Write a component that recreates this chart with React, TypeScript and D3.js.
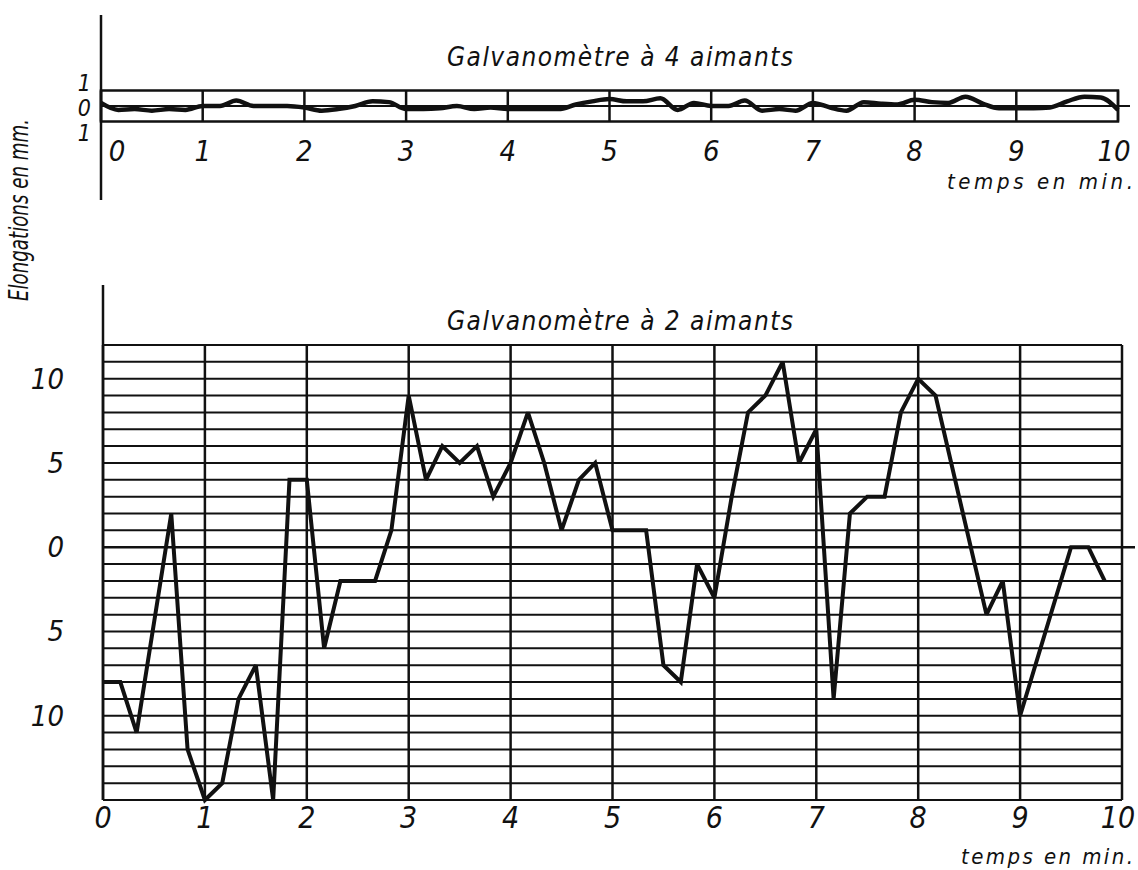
import React from "react";
import * as d3 from "d3";

// ---- data ----
const minutes = [0, 1, 2, 3, 4, 5, 6, 7, 8, 9, 10];

// Galvanomètre à 4 aimants (upper trace), elongations in mm
const upperTimes = [0, 0.17, 0.33, 0.5, 0.67, 0.83, 1.0, 1.17, 1.33, 1.5, 1.67, 1.83, 2.0, 2.17, 2.33, 2.5, 2.67, 2.83, 3.0, 3.17, 3.33, 3.5, 3.67, 3.83, 4.0, 4.17, 4.33, 4.5, 4.67, 4.83, 5.0, 5.17, 5.33, 5.5, 5.67, 5.83, 6.0, 6.17, 6.33, 6.5, 6.67, 6.83, 7.0, 7.17, 7.33, 7.5, 7.67, 7.83, 8.0, 8.17, 8.33, 8.5, 8.67, 8.83, 9.0, 9.17, 9.33, 9.5, 9.67, 9.83, 10.0];
const upperValues = [0.2, -0.25, -0.2, -0.3, -0.2, -0.25, 0, 0, 0.35, 0, 0, 0, -0.1, -0.3, -0.2, 0, 0.3, 0.25, -0.2, -0.2, -0.15, 0, -0.2, -0.1, -0.2, -0.2, -0.2, -0.2, 0.1, 0.3, 0.45, 0.3, 0.3, 0.5, -0.25, 0.2, 0, 0, 0.35, -0.3, -0.2, -0.3, 0.2, -0.1, -0.3, 0.25, 0.15, 0.1, 0.4, 0.25, 0.2, 0.6, 0.15, -0.15, -0.15, -0.15, -0.1, 0.3, 0.6, 0.55, -0.25];

// Galvanomètre à 2 aimants (lower trace), elongations in mm
const lowerTimes = [0, 0.17, 0.33, 0.67, 0.83, 1.0, 1.17, 1.33, 1.5, 1.67, 1.83, 2.0, 2.17, 2.33, 2.67, 2.83, 3.0, 3.17, 3.33, 3.5, 3.67, 3.83, 4.0, 4.17, 4.33, 4.5, 4.67, 4.83, 5.0, 5.33, 5.5, 5.67, 5.83, 6.0, 6.17, 6.33, 6.5, 6.67, 6.83, 7.0, 7.17, 7.33, 7.5, 7.67, 7.83, 8.0, 8.17, 8.67, 8.83, 9.0, 9.5, 9.67, 9.83];
const lowerValues = [-8, -8, -11, 2, -12, -15, -14, -9, -7, -15, 4, 4, -6, -2, -2, 1, 9, 4, 6, 5, 6, 3, 5, 8, 5, 1, 4, 5, 1, 1, -7, -8, -1, -3, 3, 8, 9, 11, 5, 7, -9, 2, 3, 3, 8, 10, 9, -4, -2, -10, 0, 0, -2];

const upperYTicks = [1, 0, -1];
const lowerYTicks = [10, 5, 0, -5, -10];
const lowerGridValues = d3.range(-15, 13);

const titleUpper = "Galvanomètre à 4 aimants";
const titleLower = "Galvanomètre à 2 aimants";
const yLabel = "Elongations en mm.";
const xLabel = "temps en min.";

const FONT = "'Liberation Sans Narrow', 'DejaVu Sans Condensed', 'DejaVu Sans', sans-serif";

export default function App() {
  const W = 1138, H = 870;

  // upper chart scales
  const xU = d3.scaleLinear().domain([0, 10]).range([101, 1118]);
  const yU = d3.scaleLinear().domain([-1, 1]).range([121.5, 90.5]);
  // lower chart scales
  const xL = d3.scaleLinear().domain([0, 10]).range([103, 1122]);
  const yL = d3.scaleLinear().domain([-15, 12]).range([800, 345]);

  const upperLine = d3.line<number>()
    .x((_, i) => xU(upperTimes[i]))
    .y((d) => yU(d))
    .curve(d3.curveMonotoneX);
  const lowerLine = d3.line<number>()
    .x((_, i) => xL(lowerTimes[i]))
    .y((d) => yL(d));

  const textStyle: React.CSSProperties = { fontFamily: FONT, fontStyle: "italic", fill: "#111" };

  // baselines of the stacked upper y labels
  const upperLabelY = (v: number) => (v > 0 ? 91 : v < 0 ? 141 : 116);

  return (
    <svg width={W} height={H} viewBox={`0 0 ${W} ${H}`} style={{ position: "absolute", left: 0, top: 0, background: "#fff" }}>
      <rect x={0} y={0} width={W} height={H} fill="#fff" />

      {/* ===== Upper chart ===== */}
      <text x={620} y={66} textAnchor="middle" fontSize={26} textLength={346} lengthAdjust="spacing" style={textStyle}>{titleUpper}</text>
      <line x1={xU(0)} x2={xU(0)} y1={15} y2={200} stroke="#111" strokeWidth={2.5} />
      <rect x={xU(0)} y={yU(1)} width={xU(10) - xU(0)} height={yU(-1) - yU(1)} fill="none" stroke="#111" strokeWidth={2.5} />
      {minutes.map((m) => (
        <line key={"uv" + m} x1={xU(m)} x2={xU(m)} y1={yU(1)} y2={yU(-1)} stroke="#111" strokeWidth={2.5} />
      ))}
      <line x1={xU(0)} x2={xU(10) + 12} y1={yU(0)} y2={yU(0)} stroke="#111" strokeWidth={2} />
      <path d={upperLine(upperValues) || ""} fill="none" stroke="#111" strokeWidth={4.5} strokeLinejoin="round" />
      {upperYTicks.map((v) => (
        <text key={"uy" + v} x={91} y={upperLabelY(v)} textAnchor="end" fontSize={23} style={textStyle}>{Math.abs(v)}</text>
      ))}
      {minutes.map((m) => (
        <text key={"ux" + m} x={xU(m) + (m === 0 ? 16 : m === 10 ? -4 : 0)} y={161} textAnchor="middle" fontSize={29} style={textStyle}>{m}</text>
      ))}
      <text x={1133} y={189} textAnchor="end" fontSize={22} textLength={186} lengthAdjust="spacing" style={textStyle}>{xLabel}</text>

      {/* y axis label */}
      <text transform={`translate(28,210) rotate(-90)`} textAnchor="middle" fontSize={26} textLength={182} lengthAdjust="spacingAndGlyphs" style={textStyle}>{yLabel}</text>

      {/* ===== Lower chart ===== */}
      <text x={620} y={330} textAnchor="middle" fontSize={26} textLength={346} lengthAdjust="spacing" style={textStyle}>{titleLower}</text>
      <line x1={xL(0)} x2={xL(0)} y1={285} y2={yL(-15)} stroke="#111" strokeWidth={2.5} />
      {lowerGridValues.map((v) => (
        <line key={"lh" + v} x1={xL(0)} x2={v === 0 ? xL(10) + 13 : xL(10)} y1={yL(v)} y2={yL(v)} stroke="#111" strokeWidth={v === 0 ? 2.4 : 2} />
      ))}
      {minutes.map((m) => (
        <line key={"lv" + m} x1={xL(m)} x2={xL(m)} y1={yL(12)} y2={yL(-15)} stroke="#111" strokeWidth={2.5} />
      ))}
      <path d={lowerLine(lowerValues) || ""} fill="none" stroke="#111" strokeWidth={4} strokeLinejoin="miter" strokeMiterlimit={3} />
      {lowerYTicks.map((v) => (
        <text key={"ly" + v} x={64} y={yL(v) + 10} textAnchor="end" fontSize={29} style={textStyle}>{Math.abs(v)}</text>
      ))}
      {minutes.map((m) => (
        <text key={"lx" + m} x={xL(m) - (m === 10 ? 4 : 0)} y={828} textAnchor="middle" fontSize={30} style={textStyle}>{m}</text>
      ))}
      <text x={1133} y={864} textAnchor="end" fontSize={22} textLength={172} lengthAdjust="spacing" style={textStyle}>{xLabel}</text>
    </svg>
  );
}
